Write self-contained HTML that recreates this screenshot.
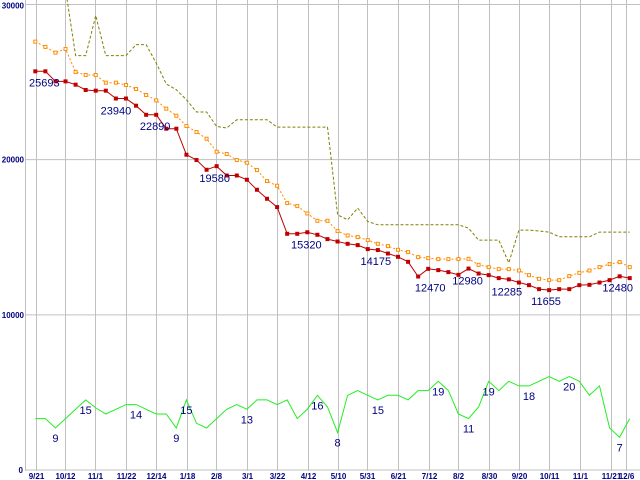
<!DOCTYPE html>
<html><head><meta charset="utf-8"><style>
html,body{margin:0;padding:0;background:#fff;}
svg{display:block;font-family:"Liberation Sans",sans-serif;}
.ax{font-size:8px;font-weight:bold;fill:#000080;}
.lb{font-size:11px;fill:#000080;}
</style></head><body>
<svg id="chart" width="640" height="480" viewBox="0 0 640 480"></svg>
<script>
const xLabels=["9/21","10/12","11/1","11/22","12/14","1/18","2/8","3/1","3/22","4/12","5/10","5/31","6/21","7/12","8/2","8/30","9/20","10/11","11/1","11/21","12/6"];
const xLabelIdx=[0.07,2.97,5.95,9.0,12.0,15.05,17.95,21.0,24.0,27.1,30.05,32.95,36.0,39.05,42.0,45.05,48.0,51.0,54.05,57.1,58.6];
const yTicks=[0,10000,20000,30000];
const lowPrice=[25693,25693,25045,25045,24833,24490,24446,24446,23940,23940,23478,22890,22890,21995,21995,20318,19976,19350,19580,18979,18979,18705,18060,17480,16944,15222,15222,15320,15158,14880,14725,14577,14493,14235,14175,13951,13739,13416,12470,12965,12881,12752,12578,12980,12661,12558,12365,12285,12081,11913,11655,11591,11655,11655,11913,11933,12081,12236,12480,12365];
const avgPrice=[27606,27264,26897,27135,25652,25458,25458,24962,24962,24813,24555,24168,23820,23285,22833,22172,21782,21350,20511,20363,19976,19802,19331,18621,18318,17202,17009,16532,16061,16061,15397,15113,15010,14816,14577,14429,14190,14042,13720,13655,13591,13591,13591,13610,13223,13074,12945,12945,12855,12558,12320,12236,12236,12494,12707,12855,13074,13268,13397,13074];
const highPrice=[null,null,null,31000,26703,26703,29283,26703,26703,26703,27413,27413,26232,24877,24510,23865,23071,23071,22142,22040,22575,22575,22575,22575,22097,22097,22097,22097,22097,22097,16448,16125,16880,16015,15803,15803,15803,15803,15803,15803,15803,15803,15803,15590,14816,14816,14816,13352,15461,15461,15400,15332,15029,15029,15029,15029,15332,15332,15332,15332];
const shopCount=[11,11,9,11,13,15,13.3,12,13,14,14,13,12,12,9,15,10,9,11,13,14,13,15,15,14,15,11,13,16,13.5,8,16,17,16,15,16,16,15,17,17,19,17,12,11,13.5,19,17,19,18,18,19,20,19,20,19,16,18,9,7,11];
const priceLabelIdx=[0,8,11,18,27,34,38,43,47,50,58];
const priceLabelText=[25693,23940,22890,19580,15320,14175,12470,12980,12285,11655,12480];
const priceLabelDx=[9,0,9,-2,-1,-2,12,-1,-2,7,-2];
const priceLabelDy=[11,12,11,12,12,11,11,12,12,12,11];
const countLabels=[[2,9],[5,15],[10,14],[14,9],[15,15],[21,13],[28,16],[30,8],[34,15],[40,19],[43,11],[45,19],[49,18],[53,20],[58,7]];

const svg=document.getElementById('chart');
const NS='http://www.w3.org/2000/svg';
const X=i=>35.3+i*10.075;
const Y=v=>470-v*0.015517;
const YC=v=>470-v*4.67;
function mk(t,a,p){const e=document.createElementNS(NS,t);for(const k in a)e.setAttribute(k,a[k]);(p||svg).appendChild(e);return e;}

const grid=mk('g',{});


yTicks.forEach(v=>{
  const l=mk('line',{x1:25,x2:640,y1:Y(v),y2:Y(v),stroke:'#c0c0c0','stroke-width':1},grid);
  
  
  const t=mk('text',{x:v===0?23:24,y:Y(v)+(v===30000?4:3),'text-anchor':'end',class:'ax'});
  t.textContent=String(v);
  
  
});
mk('line',{x1:25.5,x2:25.5,y1:0,y2:471,stroke:'#c0c0c0'},grid);
xLabelIdx.forEach((ix,k)=>{
  const x=Math.round(X(ix))+0.5;
  const l=mk('line',{x1:x,x2:x,y1:0,y2:471,stroke:'#c0c0c0'},grid);
  
  
  const t=mk('text',{x:x,y:479,'text-anchor':'middle',class:'ax'});
  t.textContent=xLabels[k];
  
  
});

function path(arr,yf){let d='';let pen=false;arr.forEach((v,i)=>{if(v==null){pen=false;return;}d+=(pen?'L':'M')+X(i).toFixed(1)+' '+yf(v).toFixed(1);pen=true;});return d;}
mk('clipPath',{id:'clp'});
mk('rect',{x:25,y:0,width:615,height:471},svg.lastChild);

const hi=mk('path',{d:path(highPrice,Y),fill:'none',stroke:'#808000','stroke-width':1,'stroke-dasharray':'3 2','clip-path':'url(#clp)'});



const av=mk('path',{d:path(avgPrice,Y),fill:'none',stroke:'#ff8c00','stroke-width':1,'stroke-dasharray':'2 2'});


avgPrice.forEach((v,i)=>{
  const r=mk('rect',{x:X(i)-1.5,y:Y(v)-1.5,width:3,height:3,fill:'#fff',stroke:'#ff8c00','stroke-width':1});
  
  
});

const lo=mk('path',{d:path(lowPrice,Y),fill:'none',stroke:'#c00000','stroke-width':1});


lowPrice.forEach((v,i)=>{
  const r=mk('rect',{x:X(i)-2,y:Y(v)-2,width:4,height:4,fill:'#c00000'});
  
  
});

const gc=mk('path',{d:path(shopCount,YC),fill:'none',stroke:'#22ee22','stroke-width':1});



priceLabelIdx.forEach((i,k)=>{
  const t=mk('text',{x:X(i)+priceLabelDx[k],y:Y(lowPrice[i])+priceLabelDy[k]+4,'text-anchor':'middle',class:'lb'});
  t.textContent=String(priceLabelText[k]);
  
  
});
countLabels.forEach(([i,v])=>{
  const t=mk('text',{x:X(i),y:YC(shopCount[i])+14,'text-anchor':'middle',class:'lb'});
  t.textContent=String(v);
  
  
});
</script>
</body></html>
